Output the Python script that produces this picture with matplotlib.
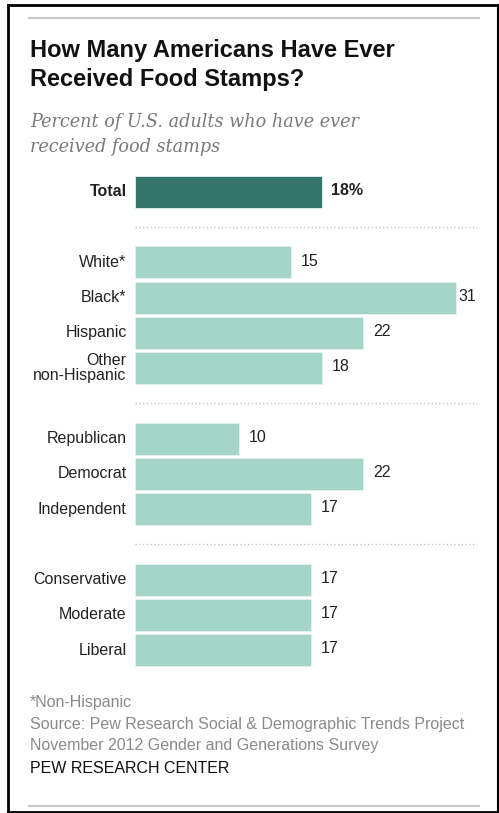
import matplotlib
matplotlib.use("Agg")
from matplotlib import pyplot as plt
from matplotlib.lines import Line2D

# food stamp share by group, percent
categories = ["Total", "White*", "Black*", "Hispanic", "Other\nnon-Hispanic",
              "Republican", "Democrat", "Independent",
              "Conservative", "Moderate", "Liberal"]
values = [18, 15, 31, 22, 18, 10, 22, 17, 17, 17, 17]
# row slot of each bar; the empty slots hold the dotted separators
rows = [0, 2, 3, 4, 5, 7, 8, 9, 11, 12, 13]
separators = [1, 6, 10]

title_lines = ["How Many Americans Have Ever", "Received Food Stamps?"]
subtitle_lines = ["Percent of U.S. adults who have ever", "received food stamps"]
notes = ["*Non-Hispanic",
         "Source: Pew Research Social & Demographic Trends Project",
         "November 2012 Gender and Generations Survey"]

W, H = 499, 813
DARK = "#36756a"
LIGHT = "#a4d5c8"
FONT = "Liberation Sans"


def fx(px):
    return px / W


def fy(py):
    return 1 - py / H


fig = plt.figure(figsize=(W / 100, H / 100), dpi=100)
fig.patch.set_facecolor("white")

# outer frame and grey rules
frame = [
    ((8, 8), (5, 812), "black", 2),
    ((8, 499), (5, 5), "black", 2),
    ((8, 499), (812, 812), "black", 2),
    ((497.5, 497.5), (5, 812), "black", 1.5),
    ((29, 479), (18.5, 18.5), "#c8c8c8", 1.5),
    ((29, 479), (806, 806), "#c8c8c8", 1.5),
]
for xs, ys, c, lw in frame:
    fig.add_artist(Line2D([fx(x) for x in xs], [fy(y) for y in ys],
                          color=c, lw=lw, transform=fig.transFigure))

for py, s in zip([57, 86], title_lines):
    fig.text(fx(30), fy(py), s, fontsize=17, fontweight="bold", family=FONT,
             color="#111111", va="baseline", ha="left")
for py, s in zip([127, 152], subtitle_lines):
    fig.text(fx(30), fy(py), s, fontsize=12.7, style="italic", family="DejaVu Serif",
             color="#7a7a7a", va="baseline", ha="left")

# bar panel
pitch = (650 - 192) / 13
top = 192 - 0.5 * pitch
bottom = 650 + 0.5 * pitch
left, right = 135, 477
ax = fig.add_axes([fx(left), fy(bottom), (right - left) / W, (bottom - top) / H])
ax.set_xlim(0, (right - left) / 10.37)
ax.set_ylim(13.5, -0.5)
ax.axis("off")

colors = [DARK] + [LIGHT] * (len(values) - 1)
ax.barh(rows, values, height=0.91, color=colors, edgecolor="#e3f2ee", linewidth=0.6)

for y in separators:
    ax.axhline(y, color="#bdbdbd", lw=0.9, linestyle=(0, (1, 2)))

vmax = max(values)
for i, (r, v, name) in enumerate(zip(rows, values, categories)):
    bold = i == 0
    ax.annotate(name, (0, r), xytext=(-6, 0), textcoords="offset points",
                ha="right", va="center", fontsize=11.5, family=FONT,
                fontweight="bold" if bold else "normal", color="#222222",
                linespacing=1.05)
    label = f"{v}%" if bold else f"{v}"
    pad = 1.5 if v == vmax else 7
    ax.annotate(label, (v, r), xytext=(pad, 1), textcoords="offset points",
                ha="left", va="center", fontsize=11.5, family=FONT,
                fontweight="bold" if bold else "normal", color="#222222")

for py, s in zip([702, 724, 745], notes):
    fig.text(fx(30), fy(py), s, fontsize=11.5, family=FONT, color="#8a8a8a",
             va="center", ha="left")
fig.text(fx(30), fy(768), "PEW RESEARCH CENTER", fontsize=11.5, family=FONT,
         color="#111111", va="center", ha="left")

fig.savefig("out.png", dpi=100)
